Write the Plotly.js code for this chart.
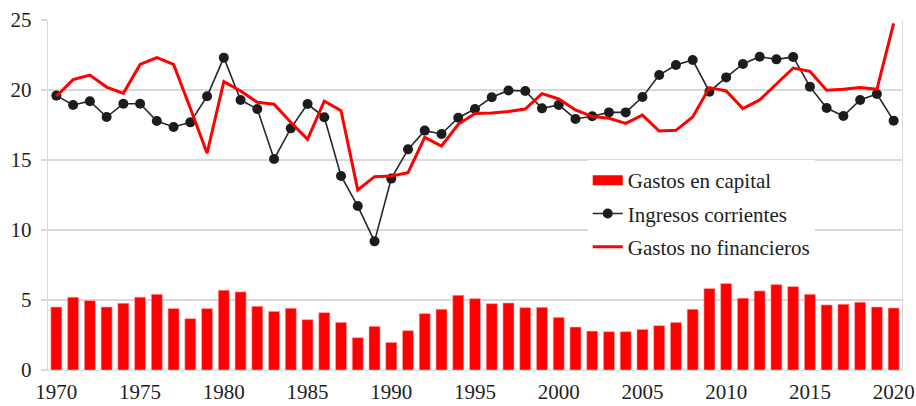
<!DOCTYPE html>
<html>
<head>
<meta charset="utf-8">
<script src="https://cdn.plot.ly/plotly-3.0.1.min.js"></script>
<style>html,body{margin:0;padding:0;background:#fff;}#chart{width:916px;height:406px;}</style>
</head>
<body>
<div id="chart"></div>
<script>
const years = [];
for (let y = 1970; y <= 2020; y++) years.push(y);

const gastosCapital = [4.5,5.2,4.96,4.5,4.77,5.2,5.41,4.39,3.67,4.39,
  5.7,5.58,4.55,4.19,4.41,3.6,4.1,3.4,2.31,3.12,
  1.97,2.81,4.03,4.34,5.34,5.1,4.74,4.79,4.46,4.48,
  3.76,3.07,2.78,2.74,2.74,2.9,3.17,3.4,4.34,5.82,
  6.18,5.13,5.65,6.1,5.96,5.41,4.65,4.7,4.84,4.5,4.43];

const ingresosCorrientes = [19.6,18.93,19.2,18.07,19.02,19.02,17.79,17.36,17.69,19.55,
  22.31,19.29,18.64,15.07,17.26,19.0,18.05,13.86,11.71,9.19,
  13.67,15.76,17.1,16.86,18.02,18.64,19.48,19.97,19.93,18.69,
  18.93,17.93,18.12,18.4,18.4,19.5,21.07,21.79,22.14,19.88,
  20.9,21.86,22.38,22.19,22.36,20.24,18.71,18.14,19.29,19.71,17.81];

const gastosNoFinancieros = [19.55,20.74,21.07,20.21,19.76,21.83,22.31,21.83,18.7,15.48,
  20.6,19.93,19.12,18.98,17.7,16.48,19.21,18.52,12.86,13.81,
  13.86,14.1,16.62,16.0,17.55,18.33,18.36,18.46,18.64,19.74,
  19.36,18.57,18.1,17.98,17.62,18.21,17.07,17.12,18.07,20.17,
  19.93,18.67,19.29,20.43,21.57,21.33,19.98,20.05,20.17,20.05,24.76];

const labelYears = [1970,1975,1980,1985,1990,1995,2000,2005,2010,2015,2020];
const tickBoundaries = labelYears.map(y => y - 0.5);

const seriesNames = ['Gastos en capital','Ingresos corrientes','Gastos no financieros'];

const FONT = "Liberation Serif, serif";
const GRID = '#d9d9d9';
const TXT = '#1e1e1e';

const traces = [
  {type:'bar', x:years, y:gastosCapital, name:seriesNames[0], showlegend:false,
   marker:{color:'#ff0000', line:{color:'#ffb0b0', width:0.6}}, hoverinfo:'x+y'},
  {type:'scatter', mode:'lines', x:[null], y:[null], name:seriesNames[0],
   line:{color:'#ff0000', width:10}, legendrank:1, legendgroup:'a', hoverinfo:'skip'},
  {type:'scatter', mode:'lines+markers', x:years, y:ingresosCorrientes, name:seriesNames[1],
   line:{color:'#23272e', width:1.6}, marker:{color:'#1c1c1c', size:10},
   legendrank:2, legendgroup:'b'},
  {type:'scatter', mode:'lines', x:years, y:gastosNoFinancieros, name:seriesNames[2],
   line:{color:'#ff0000', width:3}, legendrank:3, legendgroup:'c'}
];

const layout = {
  width:916, height:406,
  margin:{l:48, r:14, t:20, b:36},
  paper_bgcolor:'#ffffff', plot_bgcolor:'#ffffff',
  font:{family:FONT, size:21, color:TXT},
  bargap:0.34,
  showlegend:true,
  legend:{x:0.632, xanchor:'left', y:0.6, yanchor:'top', bgcolor:'#ffffff',
    borderwidth:0, traceorder:'grouped', tracegroupgap:3,
    font:{family:FONT, size:21, color:TXT}, itemwidth:30},
  xaxis:{range:[1969.5,2020.5], tickmode:'array', tickvals:labelYears,
    ticktext:labelYears.map(String), ticks:'', showgrid:false, zeroline:false,
    showline:true, linecolor:GRID, linewidth:1.2, fixedrange:true, ticklabelstandoff:3,
    tickfont:{family:FONT, size:21, color:TXT}},
  xaxis2:{overlaying:'x', anchor:'y', range:[1969.5,2020.5], tickmode:'array',
    tickvals:tickBoundaries, ticks:'outside', ticklen:7, tickcolor:GRID, tickwidth:1.2,
    showticklabels:false, showgrid:false, zeroline:false, showline:false, side:'bottom'},
  yaxis:{range:[0,25], tickmode:'linear', tick0:0, dtick:5, showgrid:true, gridcolor:GRID,
    gridwidth:1.2, zeroline:false, showline:true, linecolor:GRID, linewidth:1.2, mirror:true,
    ticks:'outside', ticklen:6, tickcolor:GRID, tickwidth:1.2, fixedrange:true, ticklabelstandoff:5,
    tickfont:{family:FONT, size:21, color:TXT}}
};

Plotly.newPlot('chart', traces, layout, {displayModeBar:false, staticPlot:true});
</script>
</body>
</html>
